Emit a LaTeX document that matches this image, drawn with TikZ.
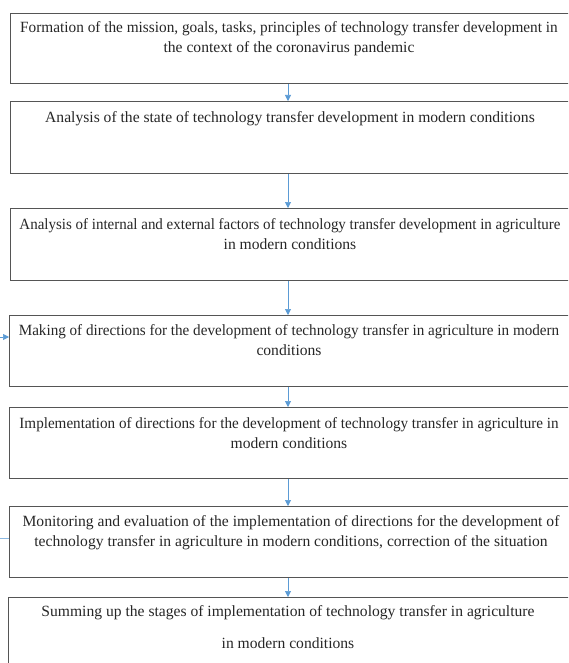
\documentclass[tikz,border=0pt]{standalone}
\usepackage{fontspec}
\usepackage{graphicx}
\setmainfont{Liberation Serif}
\usetikzlibrary{arrows.meta}
\definecolor{arrowblue}{HTML}{5B9BD5}
\definecolor{boxgray}{HTML}{555555}
\newcommand{\squeeze}[2]{\scalebox{#1}[1]{#2}}
\tikzset{
  stagebox/.style={draw=boxgray, line width=1.1pt, rectangle, anchor=north west, inner sep=0pt},
  stagetext/.style={anchor=north, inner sep=0pt, align=center, font=\fontsize{15.6}{20}\selectfont, text=black!85},
  flow/.style={draw=arrowblue, line width=0.6pt, -{Triangle[width=6pt,length=6pt]}},
  feed/.style={draw=arrowblue!70, line width=0.6pt}
}
\begin{document}
\begin{tikzpicture}[x=1pt,y=-1pt]
\useasboundingbox (0,0) rectangle (568,663);
\clip (0,0) rectangle (568,663);
% boxes
\node[stagebox, minimum width=580pt, minimum height=70pt] (b1) at (10,13) {};
\node[stagebox, minimum width=580pt, minimum height=72pt] (b2) at (10,101) {};
\node[stagebox, minimum width=580pt, minimum height=72pt] (b3) at (10,208) {};
\node[stagebox, minimum width=580pt, minimum height=71pt] (b4) at (9,315) {};
\node[stagebox, minimum width=580pt, minimum height=71pt] (b5) at (9,407) {};
\node[stagebox, minimum width=580pt, minimum height=71pt] (b6) at (9,506) {};
\node[stagebox, minimum width=580pt, minimum height=80pt] (b7) at (8,597) {};
% texts
\node[stagetext] (t1) at (289,21) {\squeeze{0.98}{Formation of the mission, goals, tasks, principles of technology transfer development in}\\the context of the coronavirus pandemic};
\node[stagetext] (t2) at (290,111) {Analysis of the state of technology transfer development in modern conditions};
\node[stagetext] (t3) at (290,218) {\squeeze{0.96}{Analysis of internal and external factors of technology transfer development in agriculture}\\in modern conditions};
\node[stagetext] (t4) at (289,324) {\squeeze{0.97}{Making of directions for the development of technology transfer in agriculture in modern}\\conditions};
\node[stagetext] (t5) at (289,417) {\squeeze{0.97}{Implementation of directions for the development of technology transfer in agriculture in}\\modern conditions};
\node[stagetext] (t6) at (291,515) {Monitoring and evaluation of the implementation of directions for the development of\\technology transfer in agriculture in modern conditions, correction of the situation};
\node[stagetext, font=\fontsize{15.6}{32}\selectfont] (t7) at (288,605) {Summing up the stages of implementation of technology transfer in agriculture\\in modern conditions};
% arrows
\foreach \a/\b in {b1/b2,b2/b3,b3/b4,b4/b5,b5/b6,b6/b7}
  \draw[flow] (\a.south -| 288,0) -- (\b.north -| 288,0);
% feedback stubs
\coordinate (fin) at (0,337);
\coordinate (fout) at (0,538);
\draw[flow] (fin) -- (fin -| b4.west);
\draw[feed] (b6.west |- fout) -- (fout);
\end{tikzpicture}
\end{document}
